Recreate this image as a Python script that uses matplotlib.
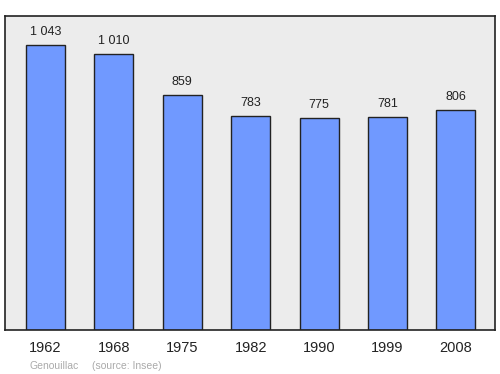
import matplotlib
matplotlib.use('Agg')
from matplotlib import pyplot as plt

years = ['1962', '1968', '1975', '1982', '1990', '1999', '2008']
population = [1043, 1010, 859, 783, 775, 781, 806]
labels = ['1 043', '1 010', '859', '783', '775', '781', '806']

plt.rcParams['font.family'] = ['Liberation Sans', 'DejaVu Sans']

fig = plt.figure(figsize=(5, 3.74), dpi=100)
ax = fig.add_axes([0.01, 0.1176, 0.98, 0.840])
ax.set_facecolor('#ececec')

x = list(range(len(years)))
ax.bar(x, population, width=0.57, color='#7099ff', edgecolor='#222222', linewidth=1, zorder=2)
for xi, v, lab in zip(x, population, labels):
    ax.annotate(lab, (xi, v), xytext=(0, 7), textcoords='offset pixels',
                ha='center', va='bottom', fontsize=9, color='#222222')

ax.set_xlim(-0.59, 6.57)
ax.set_ylim(0, 1150)
ax.set_yticks([])
ax.set_xticks(x)
ax.set_xticklabels(years, fontsize=10.5, color='#222222')
ax.tick_params(axis='x', length=0, pad=8)
for s in ax.spines.values():
    s.set_color('#222222')
    s.set_linewidth(1.2)

fig.text(30 / 500, 1 - 366 / 374, 'Genouillac', fontsize=7.5, color='#aaaaaa', va='center')
fig.text(92 / 500, 1 - 366 / 374, '(source: Insee)', fontsize=7.5, color='#aaaaaa', va='center')

fig.savefig('out.png', dpi=100)
